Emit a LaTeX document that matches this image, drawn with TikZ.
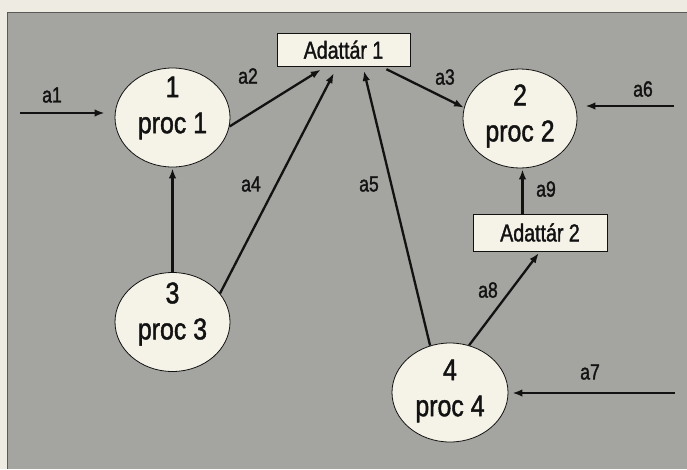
\documentclass[tikz,border=0pt]{standalone}
\usepackage{fontspec}
\setmainfont{Liberation Sans}
\newfontfamily\procfont[FakeStretch=0.83,FakeBold=1.4]{Liberation Sans}
\newfontfamily\narrowfont[FakeStretch=0.8,FakeBold=1.4]{Liberation Sans}
\usetikzlibrary{shapes.geometric,arrows.meta,calc}
\definecolor{paper}{HTML}{EEEBE2}
\definecolor{panel}{HTML}{A4A4A0}
\definecolor{cream}{HTML}{F5F2E8}
\definecolor{ink}{HTML}{121212}
\begin{document}
\begin{tikzpicture}[x=1pt,y=-1pt,
  procnode/.style={ellipse,draw=ink,line width=0.8pt,fill=cream,minimum width=115pt,minimum height=99pt,inner sep=0pt},
  proctext/.style={align=center,inner sep=0pt,text=ink,font=\procfont\fontsize{30}{36}\selectfont},
  store/.style={draw=ink,line width=1pt,fill=cream,inner sep=0pt,text=ink,font=\narrowfont\fontsize{24.5}{28}\selectfont},
  lab/.style={inner sep=0pt,text=ink,font=\narrowfont\fontsize{22}{24}\selectfont},
  arr/.style={draw=ink,line width=2.3pt,-{Latex[length=10pt,width=7.5pt]}}]
\useasboundingbox (0,0) rectangle (687,469);
\fill[paper] (0,0) rectangle (687,469);
\fill[panel] (7,12) rectangle (687,469);
\draw[ink!70,line width=0.6pt] (7,469) -- (7,12) -- (687,12);
% processes
\node[procnode] (p1) at (172.5,117.5) {};
\node[procnode,minimum width=114pt] (p2) at (520,118.5) {};
\node[procnode] (p3) at (172.5,322) {};
\node[procnode,minimum width=116pt] (p4) at (450,392.5) {};
\node[proctext] (p1t) at (172.5,108) {1\\proc 1};
\node[proctext] (p2t) at (520,116) {2\\proc 2};
\node[proctext] (p3t) at (172.5,314) {3\\proc 3};
\node[proctext] (p4t) at (450,391) {4\\proc 4};
% stores
\node[store,minimum width=133pt,minimum height=33.5pt] (b1) at (343.5,49.75) {Adattár 1};
\node[store,minimum width=134pt,minimum height=37pt] (b2) at (540,232.5) {Adattár 2};
% free ends
\coordinate (a1s) at (20,113);
\coordinate (a6s) at (674,106);
\coordinate (a7s) at (675,393);
% connectors
\draw[arr,shorten >=10pt] (a1s) -- (a1s -| p1.west);
\draw[arr,shorten >=5pt] (p1.-9) -- ([xshift=-18.5pt]b1.south);
\draw[arr,shorten <=5pt] ([xshift=38.5pt]b1.south) -- (p2.169.6);
\draw[arr,shorten >=8pt] (a6s) -- (a6s -| p2.east);
\draw[arr,shorten >=1pt] (p3.north) -- (p1.south);
\draw[arr,shorten >=7pt] (p3.31) -- ([xshift=-6.5pt]b1.south);
\draw[arr,shorten >=4pt] (p4.113) -- ([xshift=19.5pt]b1.south);
\draw[arr,shorten >=2pt] (p4.68) -- (b2.south);
\draw[arr,shorten >=1pt] ([xshift=-17.5pt]b2.north) -- ([xshift=2.5pt]p2.south);
\draw[arr,shorten >=4pt] (a7s) -- (a7s -| p4.east);
% labels
\node[lab] (l1) at (52,95) {a1};
\node[lab] (l2) at (248,76) {a2};
\node[lab] (l3) at (445,77) {a3};
\node[lab] (l4) at (251,184) {a4};
\node[lab] (l5) at (369,184) {a5};
\node[lab] (l6) at (643,89) {a6};
\node[lab] (l7) at (590,372) {a7};
\node[lab] (l8) at (488,290) {a8};
\node[lab] (l9) at (546,189) {a9};
\end{tikzpicture}
\end{document}
